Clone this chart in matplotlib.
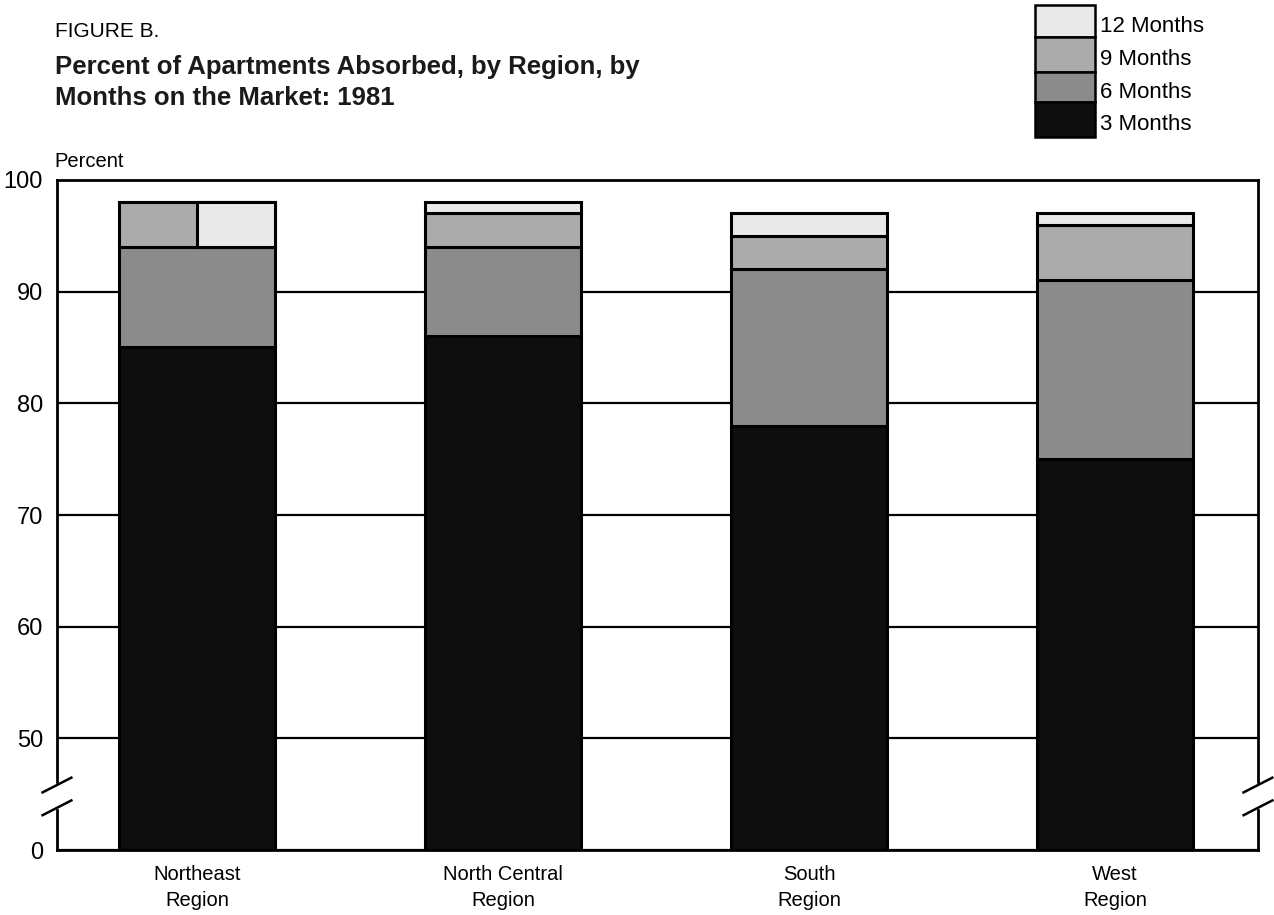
import numpy as np
import matplotlib
matplotlib.use("Agg")
import matplotlib.pyplot as plt
from matplotlib.patches import Rectangle

plt.rcParams['font.family'] = ['Liberation Sans', 'DejaVu Sans']

regions = ["Northeast\nRegion", "North Central\nRegion", "South\nRegion", "West\nRegion"]
# cumulative percent absorbed after n months on the market
months_3 = [85, 86, 78, 75]
months_6 = [94, 94, 92, 91]
months_9 = [98, 97, 95, 96]
months_12 = [98, 98, 97, 97]
series_names = ["3 Months", "6 Months", "9 Months", "12 Months"]
series_colors = ["#0e0e0e", "#8b8b8b", "#ababab", "#e9e9e9"]
y_ticks = [40, 50, 60, 70, 80, 90, 100]
y_tick_labels = ["0", "50", "60", "70", "80", "90", "100"]
y_floor = 40  # the "0" of the broken axis

fig = plt.figure(figsize=(12.74, 9.15), dpi=100)
ax = fig.add_axes([0.0447, 0.0710, 0.9427, 0.7323])

x = np.arange(len(regions))
w = 0.51
levels = [months_3, months_6, months_9, months_12]
bottom = np.full(len(regions), y_floor, dtype=float)
for vals, col in zip(levels, series_colors):
    vals = np.array(vals, dtype=float)
    ax.bar(x, vals - bottom, w, bottom=bottom, color=col, edgecolor="black",
           linewidth=2.2, zorder=3)
    bottom = vals

# where 12 months adds nothing, the top block is split between 9 and 12 months
for i in range(len(regions)):
    if months_12[i] == months_9[i]:
        ax.bar(x[i] + w / 4, months_9[i] - months_6[i], w / 2, bottom=months_6[i],
               color=series_colors[3], edgecolor="black", linewidth=2.2, zorder=4)

ax.set_xlim(-0.457, 3.467)
ax.set_ylim(y_floor, 100)
ax.set_yticks(y_ticks)
ax.set_yticklabels(y_tick_labels, fontsize=17)
ax.set_xticks(x)
ax.set_xticklabels(regions, fontsize=14.5, linespacing=1.45)
ax.tick_params(length=0)
ax.tick_params(axis='x', pad=11)
ax.tick_params(axis='y', pad=10)
ax.grid(axis='y', color='black', linewidth=1.6, zorder=1)
for s in ax.spines.values():
    s.set_linewidth(2)

# axis break marks on both sides
for xs in (0, 1):
    ax.add_patch(Rectangle((xs - 0.006, 0.062), 0.012, 0.036, transform=ax.transAxes,
                           color="white", zorder=6, clip_on=False))
    for yb in (0.063, 0.097):
        ax.plot([xs - 0.012, xs + 0.012], [yb - 0.011, yb + 0.011], color="black",
                linewidth=1.8, transform=ax.transAxes, clip_on=False, zorder=7)

fig.text(0.043, 0.960, "FIGURE B.", fontsize=15, va="baseline", ha="left")
fig.text(0.043, 0.919, "Percent of Apartments Absorbed, by Region, by",
         fontsize=18.5, fontweight="bold", va="baseline", ha="left", color="#1a1a1a")
fig.text(0.043, 0.885, "Months on the Market: 1981",
         fontsize=18.5, fontweight="bold", va="baseline", ha="left", color="#1a1a1a")
fig.text(0.043, 0.8175, "Percent", fontsize=14.5, va="baseline", ha="left")

# legend: stacked swatches, top to bottom 12, 9, 6, 3 months
lx, lw_ = 1035 / 1274, 60 / 1274
edges_px = [5, 37, 72, 102, 137]
for k, (name, col) in enumerate(zip(series_names[::-1], series_colors[::-1])):
    y_top = 1 - edges_px[k] / 915
    y_bot = 1 - edges_px[k + 1] / 915
    fig.patches.append(Rectangle((lx, y_bot), lw_, y_top - y_bot, transform=fig.transFigure,
                                 facecolor=col, edgecolor="black", linewidth=1.8))
    fig.text(lx + lw_ + 0.004, (y_top + y_bot) / 2 - 0.006, name, fontsize=16,
             va="center", ha="left")

fig.savefig("out.png", dpi=100)
